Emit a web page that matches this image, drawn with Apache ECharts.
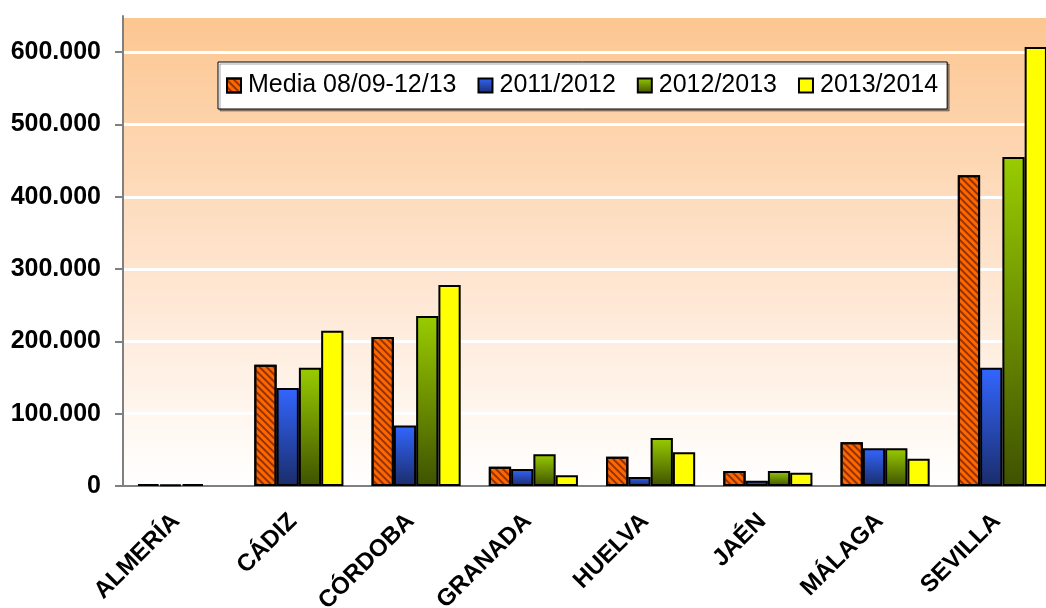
<!DOCTYPE html>
<html>
<head>
<meta charset="utf-8">
<script src="https://cdn.jsdelivr.net/npm/echarts@6/dist/echarts.min.js"></script>
<style>
  html, body { margin: 0; padding: 0; background: #fff; }
  #grafico { width: 1046px; height: 608px; }
</style>
</head>
<body>
<div id="grafico"></div>
<script>
// Datos
const provincias = ['ALMERÍA', 'CÁDIZ', 'CÓRDOBA', 'GRANADA', 'HUELVA', 'JAÉN', 'MÁLAGA', 'SEVILLA']
const media0813 = [2500, 167600, 206000, 26700, 40600, 20800, 60500, 429800]
const curso1112 = [2000, 135700, 83500, 23500, 12500, 7300, 52200, 163400]
const curso1213 = [2500, 163400, 235000, 44000, 66500, 20800, 52200, 455000]
const curso1314 = [null, 214700, 278000, 15000, 46700, 18400, 37800, 607000]
const nombres = ['Media 08/09-12/13', '2011/2012', '2012/2013', '2013/2014']

const chart = echarts.init(document.getElementById('grafico'))

// formato con punto de miles
function miles(v) {
  return String(v).replace(/\B(?=(\d{3})+(?!\d))/g, '.')
}

function degradado(arriba, abajo) {
  return new echarts.graphic.LinearGradient(0, 0, 0, 1, [
    { offset: 0, color: arriba },
    { offset: 1, color: abajo }
  ])
}

const borde = { borderColor: '#000', borderWidth: 2 }

const option = {
  animation: false,
  textStyle: { fontFamily: 'Liberation Sans, Arial, sans-serif' },
  grid: {
    left: 123,
    top: 16,
    bottom: 122,
    width: 938,
    outerBoundsMode: 'none',
    show: true,
    borderColor: '#808080',
    borderWidth: 1,
    backgroundColor: new echarts.graphic.LinearGradient(0, 0, 0, 1, [
      { offset: 0, color: '#FCC690' },
      { offset: 0.5, color: '#FEE2CA' },
      { offset: 1, color: '#FFFFFF' }
    ])
  },
  legend: {
    data: nombres,
    left: 218,
    top: 62,
    padding: [11, 9, 11, 8],
    itemGap: 21,
    itemWidth: 14,
    itemHeight: 14,
    icon: 'rect',
    backgroundColor: '#fff',
    borderColor: '#000',
    borderWidth: 1,
    shadowColor: 'rgba(0,0,0,0.35)',
    shadowOffsetX: 2,
    shadowOffsetY: 2,
    textStyle: { fontSize: 25, color: '#000', padding: [0, 0, 0, 2] }
  },
  xAxis: {
    type: 'category',
    data: provincias,
    axisLine: { lineStyle: { color: '#808080', width: 2 } },
    axisTick: { length: 8, lineStyle: { color: '#808080', width: 2 } },
    axisLabel: {
      rotate: 45,
      margin: 26,
      padding: [0, 8, 0, 0],
      fontSize: 24,
      fontWeight: 'bold',
      color: '#000',
      interval: 0
    }
  },
  yAxis: {
    type: 'value',
    min: 0,
    max: 650000,
    interval: 100000,
    axisLine: { show: true, lineStyle: { color: '#808080', width: 2 } },
    axisTick: { show: true, length: 8, lineStyle: { color: '#808080', width: 2 } },
    splitLine: { lineStyle: { color: '#fff', width: 3 } },
    axisLabel: {
      margin: 22,
      fontSize: 25,
      fontWeight: 'bold',
      color: '#000',
      showMaxLabel: false,
      formatter: function (v) { return v > 600000 ? '' : miles(v) }
    }
  },
  series: [
    {
      name: nombres[0],
      type: 'bar',
      data: media0813,
      barGap: '0%',
      barCategoryGap: '24%',
      itemStyle: Object.assign({
        color: '#FF6600',
        decal: {
          symbol: 'rect',
          symbolSize: 1,
          color: 'rgba(110,35,0,0.75)',
          dashArrayX: [1, 0],
          dashArrayY: [2, 3],
          rotation: Math.PI / 4
        }
      }, borde)
    },
    {
      name: nombres[1],
      type: 'bar',
      data: curso1112,
      itemStyle: Object.assign({ color: degradado('#3366FF', '#1A2C6A') }, borde)
    },
    {
      name: nombres[2],
      type: 'bar',
      data: curso1213,
      itemStyle: Object.assign({ color: degradado('#99CC00', '#3F5200') }, borde)
    },
    {
      name: nombres[3],
      type: 'bar',
      data: curso1314,
      itemStyle: Object.assign({ color: '#FFFF00' }, borde)
    }
  ]
}

chart.setOption(option)
</script>
</body>
</html>
